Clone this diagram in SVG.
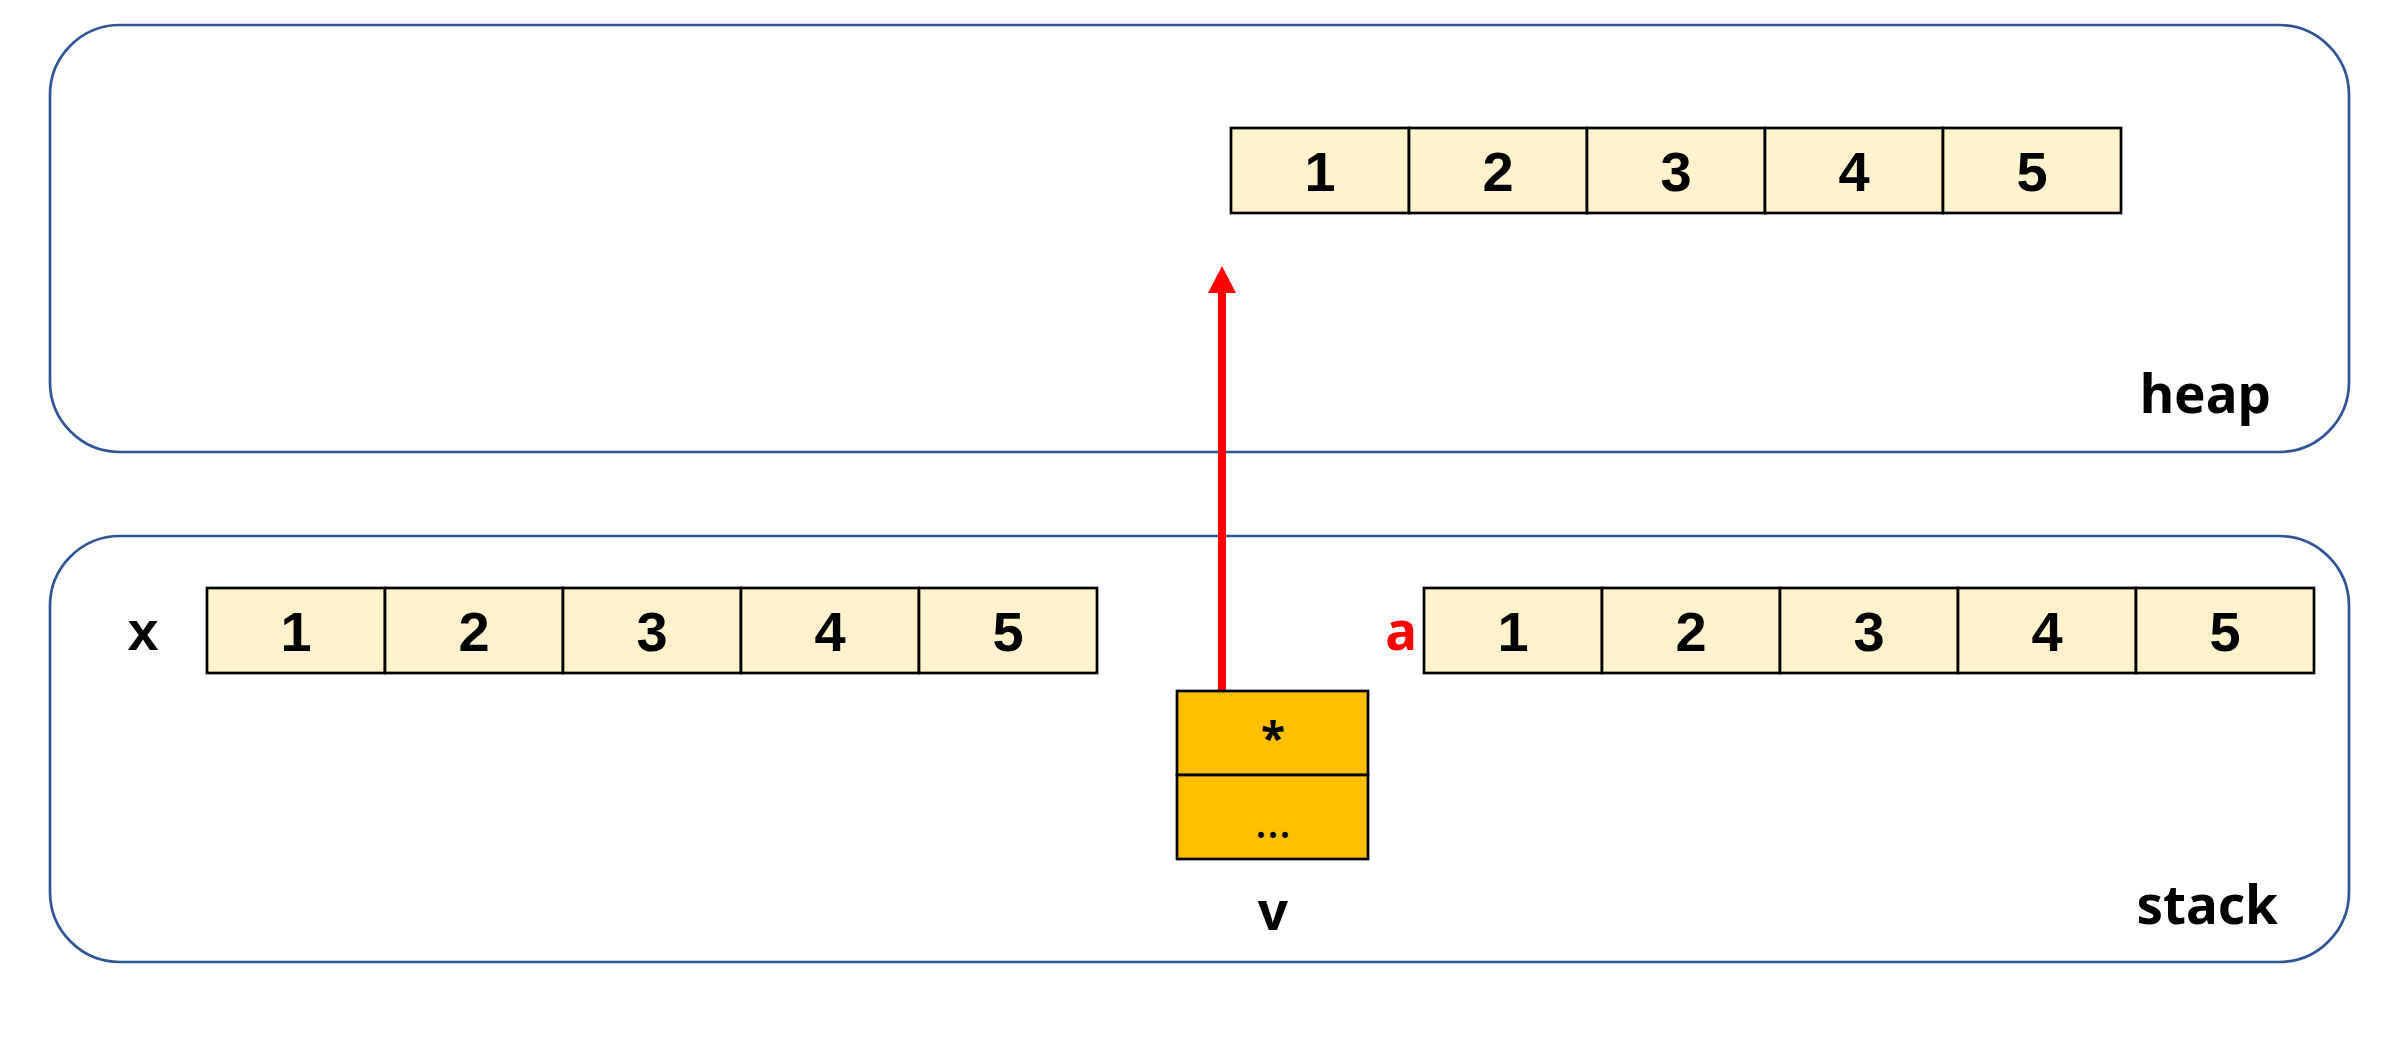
<svg xmlns="http://www.w3.org/2000/svg" width="2390" height="1044" viewBox="0 0 2390 1044">
<style>
.region{fill:#fff;stroke:#2F5597;stroke-width:2.7}
.cell{fill:#FFF2CC;stroke:#000;stroke-width:2.7}
.vcell{fill:#FFC000;stroke:#000;stroke-width:2.7}
.num{font-family:"Liberation Sans",Arial,sans-serif;font-weight:bold;font-size:56px;text-anchor:middle;fill:#000}
.lbl{font-family:"Noto Sans","Open Sans",sans-serif;font-weight:bold;font-size:53px;fill:#000}
</style>
<g id="heap">
<rect class="region" x="50" y="25" width="2299" height="427" rx="70" ry="70"/>
<text class="lbl" x="2271" y="413" text-anchor="end">heap</text>
</g>
<g id="stack">
<rect class="region" x="50" y="536" width="2299" height="426" rx="70" ry="70"/>
<text class="lbl" x="2278" y="924" text-anchor="end">stack</text>
</g>
<g id="heap-array">
<rect class="cell" x="1231" y="128" width="178" height="85"/>
<rect class="cell" x="1409" y="128" width="178" height="85"/>
<rect class="cell" x="1587" y="128" width="178" height="85"/>
<rect class="cell" x="1765" y="128" width="178" height="85"/>
<rect class="cell" x="1943" y="128" width="178" height="85"/>
<text class="num" x="1320" y="191">1</text>
<text class="num" x="1498" y="191">2</text>
<text class="num" x="1676" y="191">3</text>
<text class="num" x="1854" y="191">4</text>
<text class="num" x="2032" y="191">5</text>
</g>
<g id="x-array">
<text class="num" x="143" y="650">x</text>
<rect class="cell" x="207" y="588" width="178" height="85"/>
<rect class="cell" x="385" y="588" width="178" height="85"/>
<rect class="cell" x="563" y="588" width="178" height="85"/>
<rect class="cell" x="741" y="588" width="178" height="85"/>
<rect class="cell" x="919" y="588" width="178" height="85"/>
<text class="num" x="296" y="651">1</text>
<text class="num" x="474" y="651">2</text>
<text class="num" x="652" y="651">3</text>
<text class="num" x="830" y="651">4</text>
<text class="num" x="1008" y="651">5</text>
</g>
<g id="a-array">
<text class="lbl" x="1401" y="650" text-anchor="middle" style="fill:#FF0000">a</text>
<rect class="cell" x="1424" y="588" width="178" height="85"/>
<rect class="cell" x="1602" y="588" width="178" height="85"/>
<rect class="cell" x="1780" y="588" width="178" height="85"/>
<rect class="cell" x="1958" y="588" width="178" height="85"/>
<rect class="cell" x="2136" y="588" width="178" height="85"/>
<text class="num" x="1513" y="651">1</text>
<text class="num" x="1691" y="651">2</text>
<text class="num" x="1869" y="651">3</text>
<text class="num" x="2047" y="651">4</text>
<text class="num" x="2225" y="651">5</text>
</g>
<g id="connectors">
<line x1="1222" y1="691" x2="1222" y2="290" stroke="#FF0000" stroke-width="8"/>
<polygon points="1208,293 1236,293 1222,266" fill="#FF0000"/>
</g>
<g id="v">
<rect class="vcell" x="1177" y="691" width="191" height="84"/>
<rect class="vcell" x="1177" y="775" width="191" height="84"/>
<text class="lbl" x="1273" y="754" text-anchor="middle" style="font-size:44px">*</text>
<text class="lbl" x="1273" y="838" text-anchor="middle" style="font-size:46px;font-weight:normal">…</text>
<text class="lbl" x="1273" y="930" text-anchor="middle">v</text>
</g>
</svg>
